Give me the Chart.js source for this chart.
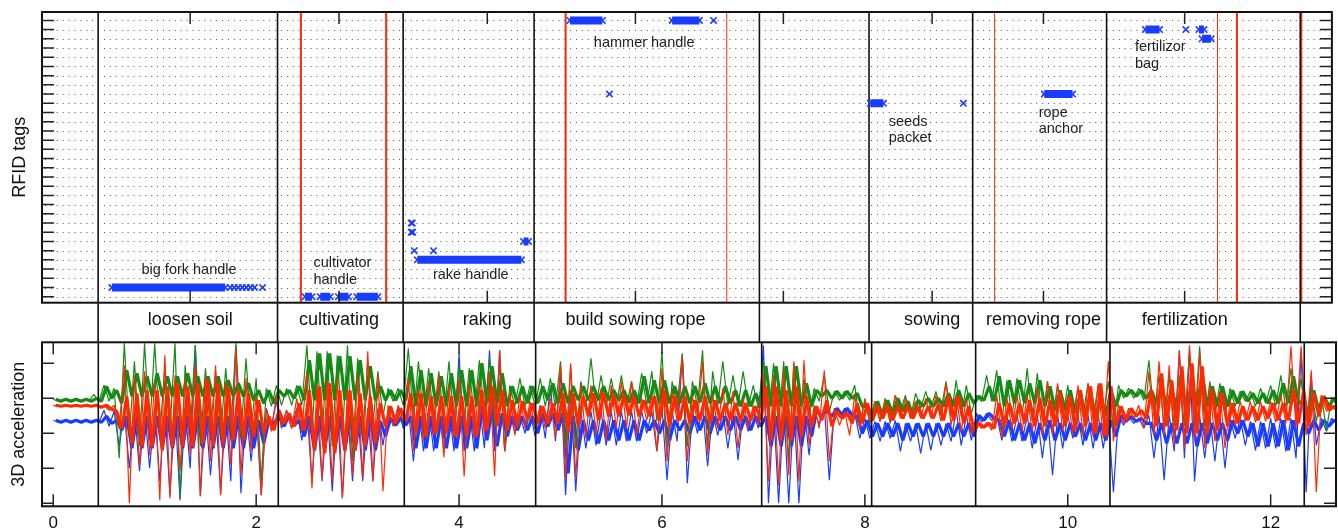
<!DOCTYPE html>
<html>
<head>
<meta charset="utf-8">
<script src="https://cdn.jsdelivr.net/npm/chart.js@4.4.0/dist/chart.umd.min.js"></script>
<style>
  html, body { margin: 0; padding: 0; background: #fff; }
  #wrap { position: relative; width: 1338px; height: 529px; overflow: hidden; background: #fff; }
  #tags { position: absolute; left: 0; top: 0; }
  #accel { position: absolute; left: 0; top: 340px; }
</style>
</head>
<body>
<div id="wrap">
  <canvas id="tags" width="1338" height="343"></canvas>
  <canvas id="accel" width="1338" height="189"></canvas>
</div>
<script>
const FONT = "'Liberation Sans', Arial, Helvetica, sans-serif";
const BLUE = '#1a3cff', GREEN = '#158a15', RED = '#ff2a00', INK = '#111';

// shared time axis
const tMin = -0.111, tMax = 12.644;
const timeTicks = [0, 2, 4, 6, 8, 10, 12];

// activity segmentation
const activityBounds = [0.444, 2.218, 3.460, 4.755, 6.983, 8.067, 9.092, 10.416, 12.331];
const activityCenters = [1.354, 2.826, 4.292, 5.757, 7.220, 8.691, 9.792, 11.188];
const activityNames = ['loosen soil', 'cultivating', 'raking', 'build sowing rope', '', 'sowing', 'removing rope', 'fertilization'];
const redMarks = [2.449, 3.292, 5.067, 6.660, 9.309, 11.513, 11.705, 12.341];

// RFID tag rows
const tagRows = [0,1,2,3,4,5,6,7,8,9,10,11,12,13,14,15,16,17,18,19,20,21,22,23,24,25,26,27,28,29,30];
// continuous detections: [start, end, tag]
const tagRuns = [
  [0.58, 1.70, 1],
  [2.49, 2.56, 0], [2.64, 2.74, 0], [2.82, 2.92, 0], [3.00, 3.21, 0],
  [3.60, 4.63, 4], [4.65, 4.70, 6],
  [5.11, 5.43, 30], [6.12, 6.39, 30],
  [8.08, 8.21, 21],
  [9.80, 10.08, 22],
  [10.80, 10.94, 29], [11.33, 11.38, 29], [11.36, 11.45, 28]
];
// isolated detections: [time, tag]
const tagSingles = [
  [1.75, 1], [1.79, 1], [1.83, 1], [1.87, 1], [1.91, 1], [1.95, 1], [1.99, 1], [2.07, 1],
  [3.54, 8], [3.55, 8], [3.54, 7], [3.555, 7], [3.57, 5], [3.76, 5],
  [5.50, 22], [6.53, 30],
  [9.00, 21],
  [11.20, 29]
];
const tagNotes = [
  { text: ['big fork handle'], x: 1.343, y: 2.9, align: 'center' },
  { text: ['cultivator', 'handle'], x: 2.573, y: 3.63, align: 'left' },
  { text: ['rake handle'], x: 4.129, y: 2.36, align: 'center' },
  { text: ['hammer handle'], x: 5.844, y: 27.5, align: 'center' },
  { text: ['seeds', 'packet'], x: 8.262, y: 19.0, align: 'left' },
  { text: ['rope', 'anchor'], x: 9.745, y: 19.98, align: 'left' },
  { text: ['fertilizor', 'bag'], x: 10.696, y: 27.08, align: 'left' }
];

// 3D acceleration, per 0.1 time bin.
// *Hi / *Lo : extreme excursions, *CoreHi / *CoreLo : dense band
const accelStep = 0.1;
const accelTicks = [3, 38, 73, 108, 143];

const greenHi = [
  107,107,107,107,112,121,118,163,145,163,
  163,141,163,141,161,138,135,138,163,148,
  128,118,121,118,121,161,155,155,151,161,
  148,145,135,118,118,158,145,138,135,145,
  141,138,146,148,141,121,128,121,128,128,
  145,140,125,148,131,128,131,125,133,135,
  155,125,153,125,156,135,145,131,135,121,
  145,143,145,143,128,118,131,115,115,121,
  105,105,108,111,111,113,115,115,125,126,
  121,111,131,136,126,128,138,133,125,121,
  121,118,123,121,125,121,118,118,146,131,
  131,131,153,160,125,123,118,115,115,118,
  121,131,138,128,118,111,109];
const greenLo = [
  105,105,105,105,105,105,48,70,60,75,
  70,75,8,75,60,75,70,75,70,75,
  25,100,101,101,101,75,70,60,70,45,
  70,80,90,105,101,85,85,85,85,85,
  80,90,90,80,55,100,100,100,100,100,
  58,58,100,100,100,100,100,100,101,85,
  55,100,60,100,60,100,100,100,100,98,
  85,80,45,80,90,105,95,106,106,83,
  83,85,83,95,88,98,98,96,90,90,
  93,105,105,85,90,90,85,85,88,88,
  90,90,88,88,80,108,108,106,90,80,
  80,80,80,80,90,90,100,105,100,103,
  100,98,90,85,85,76,101];
const greenCoreHi = [
  107,107,107,107,108,120,116,136,133,130,
  133,130,130,133,130,130,130,126,123,123,
  116,116,116,116,120,146,153,153,150,150,
  146,140,120,116,116,140,136,133,130,133,
  136,136,143,140,133,120,120,120,120,123,
  123,120,120,120,120,116,116,116,130,126,
  126,120,120,120,123,120,120,116,116,113,
  140,140,140,140,123,116,116,115,115,113,
  100,105,106,108,105,106,108,108,113,116,
  113,110,120,130,126,126,123,126,120,116,
  116,113,113,110,116,116,116,116,116,120,
  116,116,123,133,120,120,116,115,113,113,
  116,123,130,106,116,110,108];
const greenCoreLo = [
  105,105,105,105,105,108,103,110,110,110,
  110,110,110,110,110,110,110,110,110,106,
  103,103,110,108,106,106,106,106,106,106,
  106,106,106,106,106,100,100,100,100,100,
  100,100,103,103,100,103,103,103,106,103,
  103,106,106,106,106,106,104,103,103,103,
  103,103,103,104,103,103,103,100,100,100,
  100,100,100,100,100,110,108,108,108,100,
  86,90,92,95,90,100,100,100,100,100,
  103,106,105,100,103,103,103,100,96,96,
  93,90,90,90,100,110,110,108,103,100,
  100,100,100,100,100,100,103,105,103,103,
  103,103,103,90,96,100,103];

const redHi = [
  101,101,101,101,101,101,101,141,131,135,
  125,151,131,128,141,131,141,125,158,128,
  111,98,111,96,108,135,121,126,128,118,
  131,155,131,101,101,128,118,125,131,121,
  128,121,125,135,156,115,111,105,101,108,
  141,143,121,121,118,121,125,125,108,111,
  138,115,150,110,145,111,118,115,108,101,
  133,131,135,145,146,101,136,98,95,111,
  108,105,105,111,108,105,108,111,123,111,
  108,84,84,111,108,111,111,118,125,123,
  111,121,123,123,145,102,98,101,135,145,
  141,156,161,153,121,115,106,105,105,105,
  105,111,160,160,136,111,101];
const redLo = [
  100,100,100,100,99,96,78,3,40,51,
  6,8,35,51,10,45,11,41,31,55,
  11,75,80,78,75,18,28,25,8,31,
  28,25,15,80,85,55,66,71,49,68,
  30,68,71,30,55,71,78,78,78,68,
  28,28,68,71,65,78,78,71,86,55,
  45,85,45,85,51,78,71,58,78,81,
  25,21,31,25,61,78,45,81,71,78,
  85,85,85,88,88,88,88,85,81,75,
  72,78,76,68,78,75,75,71,71,75,
  72,71,71,68,65,83,88,78,71,71,
  61,58,65,58,65,58,81,85,84,85,
  84,83,78,71,14,95,95];
const redCoreHi = [
  101,101,101,101,101,101,95,110,113,116,
  116,120,123,120,123,126,123,120,116,113,
  106,90,96,93,103,116,120,123,116,116,
  113,110,103,100,98,113,113,110,110,110,
  110,110,116,120,116,106,105,103,100,103,
  113,113,110,113,113,111,111,110,106,110,
  116,110,110,106,110,106,103,103,103,100,
  120,120,116,120,110,100,106,95,93,103,
  103,100,100,100,100,100,100,102,110,110,
  100,83,83,103,103,103,106,108,106,113,
  110,116,120,123,120,100,98,96,116,133,
  126,140,143,140,116,113,103,100,100,100,
  103,103,116,116,113,110,100];
const redCoreLo = [
  100,100,100,100,99,97,78,63,60,60,
  56,60,60,60,63,60,63,66,66,70,
  73,76,83,80,76,56,53,53,56,56,
  60,63,80,83,85,73,70,73,73,70,
  70,70,76,80,76,80,86,83,83,83,
  73,80,90,86,90,90,91,90,90,86,
  80,86,83,86,83,86,86,85,86,86,
  66,66,66,70,80,86,80,88,83,83,
  86,88,86,88,88,88,88,86,86,83,
  76,79,78,80,83,83,80,80,80,80,
  76,80,73,70,80,86,90,88,80,80,
  76,73,73,73,76,80,83,86,86,88,
  86,86,83,80,90,96,95];

const blueHi = [
  86,86,86,86,86,96,95,95,98,98,
  98,98,98,98,161,98,98,98,161,98,
  96,98,105,96,98,98,98,98,98,98,
  98,98,98,95,98,98,98,98,98,98,
  153,98,103,156,156,95,91,95,101,121,
  135,115,95,95,95,95,95,95,95,95,
  100,95,151,95,100,95,95,95,95,95,
  161,100,100,100,100,98,100,98,98,93,
  88,85,85,86,83,83,83,83,83,96,
  91,93,93,91,91,91,91,91,91,91,
  91,91,91,91,91,91,90,88,91,91,
  91,156,156,91,91,91,88,88,85,85,
  88,88,88,153,131,88,88];
const blueLo = [
  84,84,84,84,84,80,60,38,35,38,
  25,11,6,38,10,31,13,25,13,45,
  11,80,78,78,66,25,25,15,8,25,
  25,25,61,81,78,45,55,55,55,55,
  55,55,58,55,55,73,73,70,68,65,
  11,15,58,61,61,61,65,65,73,55,
  26,65,23,73,40,71,58,46,75,78,
  3,3,3,3,51,81,26,89,89,68,
  68,65,68,55,65,53,56,61,65,61,
  66,84,86,66,65,65,58,48,31,58,
  68,61,58,58,14,81,83,78,48,26,
  55,48,25,48,45,38,68,61,56,58,
  58,55,48,14,61,75,83];
const blueCoreHi = [
  86,86,86,86,86,90,86,90,90,90,
  90,90,90,90,90,90,90,90,90,90,
  86,86,90,91,86,90,90,90,90,90,
  90,90,85,88,88,90,90,90,90,90,
  90,90,100,96,93,90,90,90,93,93,
  93,90,86,86,86,86,86,86,86,86,
  86,86,86,90,90,90,90,90,90,90,
  90,90,90,90,90,96,96,98,98,90,
  86,83,83,83,83,83,83,83,83,83,
  83,91,93,86,86,83,83,83,86,83,
  83,83,83,83,86,91,90,88,83,83,
  83,83,83,83,83,83,86,86,83,83,
  83,86,86,83,86,86,86];
const blueCoreLo = [
  84,84,84,84,84,83,76,58,58,58,
  58,58,58,58,58,58,58,58,58,58,
  63,83,80,81,70,56,56,56,56,56,
  56,56,70,81,81,58,58,58,58,58,
  58,58,66,60,70,76,76,73,80,76,
  33,56,66,63,66,66,66,66,76,73,
  66,76,73,76,73,76,76,76,76,80,
  60,60,60,60,70,90,90,91,91,73,
  70,70,70,66,70,70,70,70,70,70,
  70,86,88,70,66,66,63,66,66,66,
  70,66,66,66,70,85,85,83,66,63,
  63,63,60,63,66,66,73,70,60,60,
  60,56,60,73,76,80,83];

// each bin gives one up/down stroke: hi at the given phase, lo half a bin later
function zigzag(hi, lo, phase) {
  const pts = [];
  hi.forEach((h, k) => {
    pts.push({ x: (k + phase) * accelStep, y: h });
    pts.push({ x: (k + phase + 0.5) * accelStep, y: lo[k] });
  });
  return pts;
}

function runPoints() {
  const pts = [];
  tagRuns.forEach(r => {
    pts.push({ x: r[0], y: r[2] }, { x: r[1], y: r[2] }, { x: r[1], y: null });
  });
  return pts;
}

function drawFrame(chart, xVals, yVals, len) {
  const { ctx, chartArea: a, scales: { x, y } } = chart;
  ctx.save();
  ctx.strokeStyle = '#222';
  ctx.lineWidth = 1.5;
  ctx.beginPath();
  xVals.forEach(v => {
    const px = x.getPixelForValue(v);
    ctx.moveTo(px, a.top); ctx.lineTo(px, a.top + len);
    ctx.moveTo(px, a.bottom); ctx.lineTo(px, a.bottom - len);
  });
  yVals.forEach(v => {
    const py = y.getPixelForValue(v);
    ctx.moveTo(a.left, py); ctx.lineTo(a.left + len, py);
    ctx.moveTo(a.right, py); ctx.lineTo(a.right - len, py);
  });
  ctx.stroke();
  ctx.strokeStyle = INK;
  ctx.lineWidth = 2;
  ctx.strokeRect(a.left, a.top, a.right - a.left, a.bottom - a.top);
  ctx.restore();
}

function drawBounds(chart, bottom) {
  const { ctx, chartArea: a, scales: { x } } = chart;
  ctx.save();
  ctx.strokeStyle = INK;
  ctx.lineWidth = 1.6;
  ctx.beginPath();
  activityBounds.forEach(v => {
    const px = x.getPixelForValue(v);
    ctx.moveTo(px, a.top); ctx.lineTo(px, bottom);
  });
  ctx.stroke();
  ctx.restore();
}

function axisTitle(ctx, text, cx, cy) {
  ctx.save();
  ctx.translate(cx, cy);
  ctx.rotate(-Math.PI / 2);
  ctx.font = '18px ' + FONT;
  ctx.fillStyle = INK;
  ctx.textAlign = 'center';
  ctx.textBaseline = 'middle';
  ctx.fillText(text, 0, 0);
  ctx.restore();
}

const tagDeco = {
  id: 'tagDeco',
  beforeDatasetsDraw(chart) {
    const { ctx, chartArea: a, scales: { x, y } } = chart;
    ctx.save();
    ctx.strokeStyle = '#555';
    ctx.lineWidth = 1;
    ctx.setLineDash([1, 4.9]);
    ctx.beginPath();
    tagRows.forEach(v => {
      const py = Math.round(y.getPixelForValue(v)) + 0.5;
      ctx.moveTo(a.left + 3, py); ctx.lineTo(a.right, py);
    });
    ctx.stroke();
    ctx.setLineDash([]);
    ctx.strokeStyle = RED;
    redMarks.forEach((v, i) => {
      const px = x.getPixelForValue(v);
      ctx.lineWidth = (i >= 3 && i <= 5) ? 1 : 2;
      ctx.beginPath(); ctx.moveTo(px, a.top); ctx.lineTo(px, a.bottom); ctx.stroke();
    });
    ctx.restore();
    drawBounds(chart, chart.height);
  },
  afterDatasetsDraw(chart) {
    const { ctx, scales: { x, y } } = chart;
    ctx.save();
    ctx.font = '14.5px ' + FONT;
    ctx.fillStyle = '#222';
    ctx.textBaseline = 'middle';
    tagNotes.forEach(n => {
      ctx.textAlign = n.align;
      const px = x.getPixelForValue(n.x);
      const py = y.getPixelForValue(n.y);
      n.text.forEach((t, i) => ctx.fillText(t, px, py + i * 16.5));
    });
    ctx.restore();
    drawFrame(chart, activityCenters, tagRows, 12);
    axisTitle(ctx, 'RFID tags', 20, (chart.chartArea.top + chart.chartArea.bottom) / 2);
  }
};

const accelDeco = {
  id: 'accelDeco',
  afterDatasetsDraw(chart) {
    drawBounds(chart, chart.chartArea.bottom);
    drawFrame(chart, timeTicks, accelTicks, 12);
    axisTitle(chart.ctx, '3D acceleration', 19, (chart.chartArea.top + chart.chartArea.bottom) / 2);
  }
};

const markerStyle = {
  pointStyle: 'crossRot', pointRadius: 4.5, pointHoverRadius: 4.5,
  pointBorderWidth: 1.6, pointBorderColor: BLUE, pointBackgroundColor: BLUE
};

new Chart(document.getElementById('tags'), {
  type: 'line',
  data: {
    datasets: [
      Object.assign({ data: runPoints(), borderColor: BLUE, borderWidth: 8, borderCapStyle: 'butt', spanGaps: false }, markerStyle),
      Object.assign({ data: tagSingles.map(s => ({ x: s[0], y: s[1] })), showLine: false }, markerStyle)
    ]
  },
  options: {
    responsive: false, animation: false, devicePixelRatio: 1,
    layout: { padding: { top: 12, right: 2, left: 0, bottom: 0 } },
    plugins: { legend: { display: false }, tooltip: { enabled: false } },
    scales: {
      x: {
        type: 'linear', min: tMin, max: tMax, position: 'bottom',
        afterBuildTicks: s => { s.ticks = activityCenters.map(v => ({ value: v })); },
        afterFit: s => { s.height = 40.3; },
        grid: { display: false, drawTicks: false }, border: { display: false },
        ticks: {
          autoSkip: false, maxRotation: 0, minRotation: 0, padding: 7, color: INK,
          font: { family: FONT, size: 18 },
          callback: (v, i) => activityNames[i]
        }
      },
      y: {
        type: 'linear', min: -0.65, max: 30.91,
        afterBuildTicks: s => { s.ticks = tagRows.map(v => ({ value: v })); },
        afterFit: s => { s.width = 42; },
        grid: { display: false, drawTicks: false }, border: { display: false }, ticks: { display: false }
      }
    }
  },
  plugins: [tagDeco]
});

const lineStyle = { pointRadius: 0, pointHoverRadius: 0, tension: 0, fill: false, borderJoinStyle: 'bevel' };
function accelSets(color, hi, lo, coreHi, coreLo) {
  return [
    Object.assign({ data: zigzag(hi, lo, 0), borderColor: color, borderWidth: 1.2 }, lineStyle),
    Object.assign({ data: zigzag(coreHi, coreLo, 0.25), borderColor: color, borderWidth: 3.2 }, lineStyle)
  ];
}

new Chart(document.getElementById('accel'), {
  type: 'line',
  data: {
    datasets: [].concat(
      accelSets(RED, redHi, redLo, redCoreHi, redCoreLo),
      accelSets(GREEN, greenHi, greenLo, greenCoreHi, greenCoreLo),
      accelSets(BLUE, blueHi, blueLo, blueCoreHi, blueCoreLo)
    )
  },
  options: {
    responsive: false, animation: false, devicePixelRatio: 1,
    layout: { padding: { top: 2.3, right: 2, left: 0, bottom: 0 } },
    plugins: { legend: { display: false }, tooltip: { enabled: false } },
    scales: {
      x: {
        type: 'linear', min: tMin, max: tMax,
        afterBuildTicks: s => { s.ticks = timeTicks.map(v => ({ value: v })); },
        afterFit: s => { s.height = 22.7; },
        grid: { display: false, drawTicks: false }, border: { display: false },
        ticks: { autoSkip: false, maxRotation: 0, minRotation: 0, padding: 7, color: INK, font: { family: FONT, size: 17 } }
      },
      y: {
        type: 'linear', min: 0, max: 164,
        afterBuildTicks: s => { s.ticks = accelTicks.map(v => ({ value: v })); },
        afterFit: s => { s.width = 42; },
        grid: { display: false, drawTicks: false }, border: { display: false }, ticks: { display: false }
      }
    }
  },
  plugins: [accelDeco]
});
</script>
</body>
</html>
